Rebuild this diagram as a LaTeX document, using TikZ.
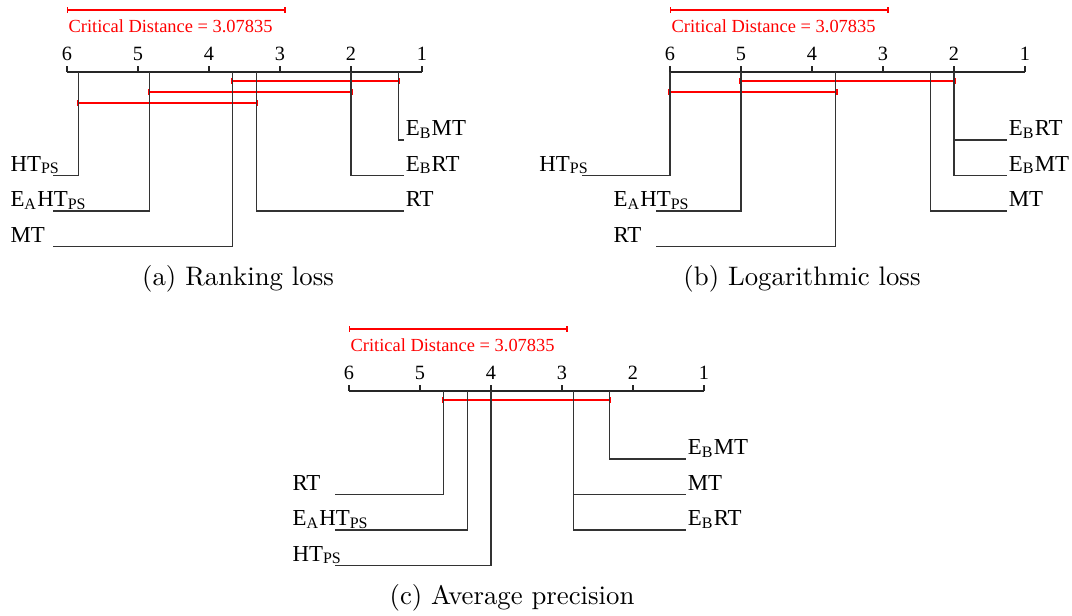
\documentclass[tikz,border=0pt]{standalone}
\usepackage{fontspec}
\newfontfamily\cdfont{Liberation Serif}
\usepackage{tikz}
\usetikzlibrary{arrows.meta}

\tikzset{
  cdaxis/.style={line width=0.4pt, black!85},
  cdline/.style={line width=0.4pt, black!80},
  cdbar/.style={red, line width=0.5pt, {Bar[width=2.2pt]}-{Bar[width=2.2pt]}},
  ticklbl/.style={anchor=base, inner sep=0pt, font=\cdfont\fontsize{7.8}{9}\selectfont},
  cdtext/.style={red, anchor=base west, inner sep=0pt, font=\cdfont\fontsize{7.1}{9}\selectfont},
  method/.style={anchor=base west, inner sep=0pt, font=\cdfont\fontsize{8.8}{10}\selectfont},
  lblL/.style={method, xshift=-16.55pt, yshift=1.73pt},
  lblR/.style={method, xshift=0.4pt, yshift=1.73pt},
  subcap/.style={anchor=base, inner sep=0pt, font=\fontsize{10.3}{12}\selectfont}
}

\begin{document}
\begin{tikzpicture}[x=0.385pt, y=-0.385pt]
\useasboundingbox (0,0) rectangle (1072,615);

% (a) ranking loss
\begin{scope}[shift={(493,0)}, x=-27.335pt]
\draw[cdaxis] (6,72) -- (1,72);
\foreach \r in {1,...,6}{
  \draw[cdaxis] (\r,72) -- (\r,65.5);
  \node[ticklbl] (a-t\r) at (\r,60) {\r};
}
\draw[cdbar] (6,10) -- (2.92165,10);
\node[cdtext] (a-cd) at (5.985,32.5) {Critical Distance = 3.07835};
% cliques
\draw[cdbar] (3.697,81) -- (1.303,81);
\draw[cdbar] (4.863,92) -- (1.97,92);
\draw[cdbar] (5.863,103) -- (3.303,103);
% methods
\coordinate (a-htps) at (6.197,175.5);
\coordinate (a-eahtps) at (6.197,211);
\coordinate (a-mt) at (6.197,246.5);
\coordinate (a-ebmt) at (1.25,140);
\coordinate (a-ebrt) at (1.25,175.5);
\coordinate (a-rt) at (1.25,211);
\node[lblL] (a-htps-l) at (a-htps) {HT\textsubscript{PS}};
\node[lblL] (a-eahtps-l) at (a-eahtps) {E\textsubscript{A}HT\textsubscript{PS}};
\node[lblL] (a-mt-l) at (a-mt) {MT};
\node[lblR] (a-ebmt-l) at (a-ebmt) {E\textsubscript{B}MT};
\node[lblR] (a-ebrt-l) at (a-ebrt) {E\textsubscript{B}RT};
\node[lblR] (a-rt-l) at (a-rt) {RT};
\draw[cdline] (5.833,72) |- (a-htps);
\draw[cdline] (4.833,72) |- (a-eahtps);
\draw[cdline] (3.667,72) |- (a-mt);
\draw[cdline] (1.333,72) |- (a-ebmt);
\draw[cdline] (2,72) |- (a-ebrt);
\draw[cdline] (3.333,72) |- (a-rt);
\end{scope}

% (b) logarithmic loss
\begin{scope}[shift={(1096,0)}, x=-27.335pt]
\draw[cdaxis] (6,72) -- (1,72);
\foreach \r in {1,...,6}{
  \draw[cdaxis] (\r,72) -- (\r,65.5);
  \node[ticklbl] (b-t\r) at (\r,60) {\r};
}
\draw[cdbar] (6,10) -- (2.92165,10);
\node[cdtext] (b-cd) at (5.985,32.5) {Critical Distance = 3.07835};
% cliques
\draw[cdbar] (5.03,81) -- (1.97,81);
\draw[cdbar] (6.03,92) -- (3.637,92);
% methods
\coordinate (b-htps) at (7.24,175.5);
\coordinate (b-eahtps) at (6.197,211);
\coordinate (b-rt) at (6.197,246.5);
\coordinate (b-ebrt) at (1.25,140);
\coordinate (b-ebmt) at (1.25,175.5);
\coordinate (b-mt) at (1.25,211);
\node[lblL] (b-htps-l) at (b-htps) {HT\textsubscript{PS}};
\node[lblL] (b-eahtps-l) at (b-eahtps) {E\textsubscript{A}HT\textsubscript{PS}};
\node[lblL] (b-rt-l) at (b-rt) {RT};
\node[lblR] (b-ebrt-l) at (b-ebrt) {E\textsubscript{B}RT};
\node[lblR] (b-ebmt-l) at (b-ebmt) {E\textsubscript{B}MT};
\node[lblR] (b-mt-l) at (b-mt) {MT};
\draw[cdline] (6,72) |- (b-htps);
\draw[cdline] (5,72) |- (b-eahtps);
\draw[cdline] (3.667,72) |- (b-rt);
\draw[cdline] (2,72) |- (b-ebrt);
\draw[cdline] (2,72) |- (b-ebmt);
\draw[cdline] (2.333,72) |- (b-mt);
\end{scope}

% (c) average precision
\begin{scope}[shift={(775,319)}, x=-27.335pt]
\draw[cdaxis] (6,72) -- (1,72);
\foreach \r in {1,...,6}{
  \draw[cdaxis] (\r,72) -- (\r,65.5);
  \node[ticklbl] (c-t\r) at (\r,60) {\r};
}
\draw[cdbar] (6,10) -- (2.92165,10);
\node[cdtext] (c-cd) at (5.985,32.5) {Critical Distance = 3.07835};
% clique
\draw[cdbar] (4.697,81) -- (2.303,81);
% methods
\coordinate (c-rt) at (6.197,175.5);
\coordinate (c-eahtps) at (6.197,211);
\coordinate (c-htps) at (6.197,246.5);
\coordinate (c-ebmt) at (1.25,140);
\coordinate (c-mt) at (1.25,175.5);
\coordinate (c-ebrt) at (1.25,211);
\node[lblL] (c-rt-l) at (c-rt) {RT};
\node[lblL] (c-eahtps-l) at (c-eahtps) {E\textsubscript{A}HT\textsubscript{PS}};
\node[lblL] (c-htps-l) at (c-htps) {HT\textsubscript{PS}};
\node[lblR] (c-ebmt-l) at (c-ebmt) {E\textsubscript{B}MT};
\node[lblR] (c-mt-l) at (c-mt) {MT};
\node[lblR] (c-ebrt-l) at (c-ebrt) {E\textsubscript{B}RT};
\draw[cdline] (4.667,72) |- (c-rt);
\draw[cdline] (4.333,72) |- (c-eahtps);
\draw[cdline] (4,72) |- (c-htps);
\draw[cdline] (2.333,72) |- (c-ebmt);
\draw[cdline] (2.833,72) |- (c-mt);
\draw[cdline] (2.833,72) |- (c-ebrt);
\end{scope}

% captions
\node[subcap] (capA) at (238,285) {(a) Ranking loss};
\node[subcap] (capB) at (802,285) {(b) Logarithmic loss};
\node[subcap] (capC) at (512,604) {(c) Average precision};
\end{tikzpicture}
\end{document}
